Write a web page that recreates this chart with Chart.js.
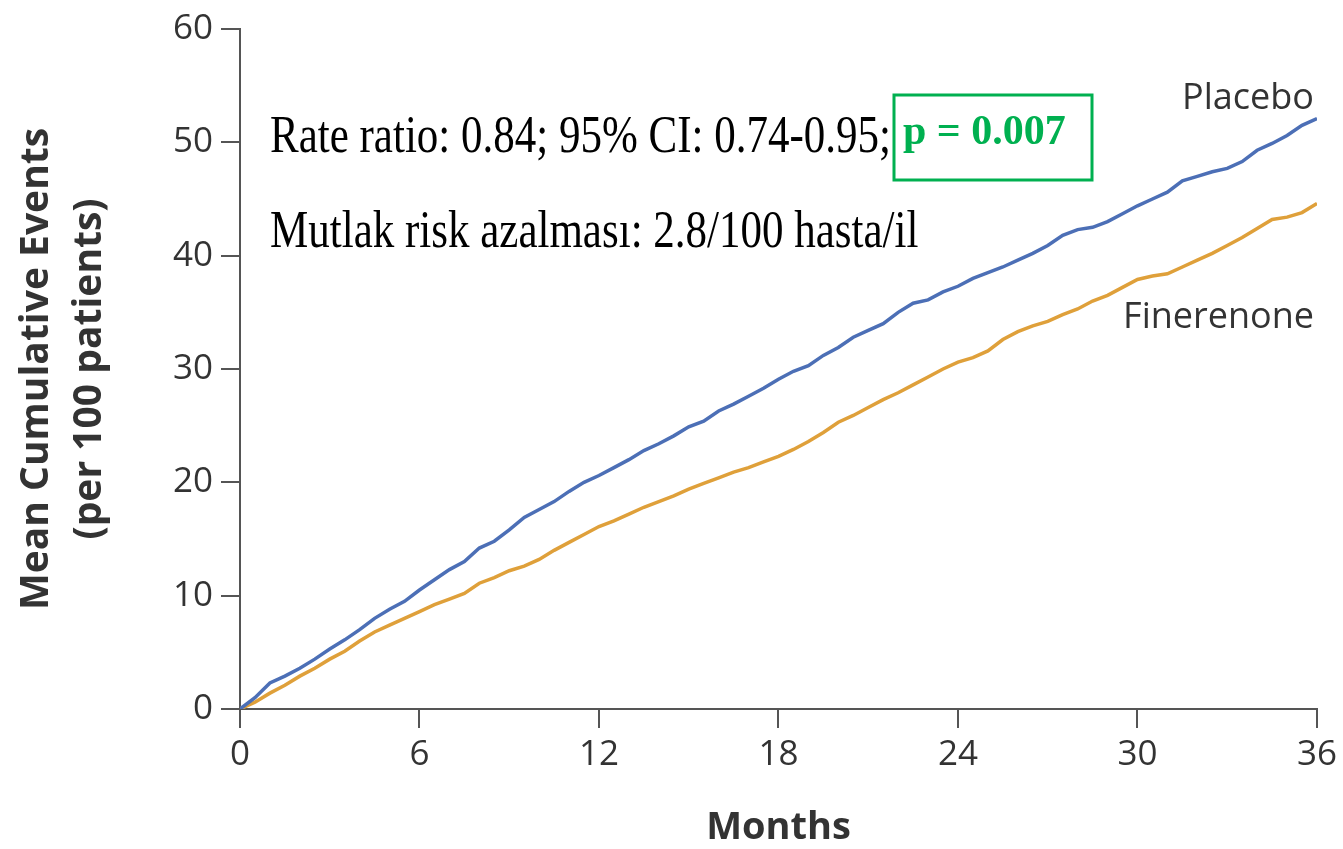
<!DOCTYPE html>
<html>
<head>
<meta charset="utf-8">
<script src="https://cdn.jsdelivr.net/npm/chart.js@4"></script>
<style>
  html, body { margin: 0; padding: 0; background: #fff; }
  #wrap { width: 1343px; height: 849px; }
</style>
</head>
<body>
<div id="wrap"><canvas id="chart" width="1343" height="849"></canvas></div>
<script>
// months, half-month steps
const months = [0, 0.5, 1, 1.5, 2, 2.5, 3, 3.5, 4, 4.5, 5, 5.5, 6, 6.5, 7, 7.5, 8, 8.5, 9, 9.5,
  10, 10.5, 11, 11.5, 12, 12.5, 13, 13.5, 14, 14.5, 15, 15.5, 16, 16.5, 17, 17.5, 18, 18.5, 19, 19.5,
  20, 20.5, 21, 21.5, 22, 22.5, 23, 23.5, 24, 24.5, 25, 25.5, 26, 26.5, 27, 27.5, 28, 28.5, 29, 29.5,
  30, 30.5, 31, 31.5, 32, 32.5, 33, 33.5, 34, 34.5, 35, 35.5, 36];

const placebo = [0, 1.0, 2.3, 2.9, 3.6, 4.4, 5.3, 6.1, 7.0, 8.0, 8.8, 9.5, 10.5, 11.4, 12.3, 13.0, 14.2, 14.8, 15.8, 16.9,
  17.6, 18.3, 19.2, 20.0, 20.6, 21.3, 22.0, 22.8, 23.4, 24.1, 24.9, 25.4, 26.3, 26.9, 27.6, 28.3, 29.1, 29.8, 30.3, 31.2,
  31.9, 32.8, 33.4, 34.0, 35.0, 35.8, 36.1, 36.8, 37.3, 38.0, 38.5, 39.0, 39.6, 40.2, 40.9, 41.8, 42.3, 42.5, 43.0, 43.7,
  44.4, 45.0, 45.6, 46.6, 47.0, 47.4, 47.7, 48.3, 49.3, 49.9, 50.6, 51.5, 52.1];

const finerenone = [0, 0.6, 1.4, 2.1, 2.9, 3.6, 4.4, 5.1, 6.0, 6.8, 7.4, 8.0, 8.6, 9.2, 9.7, 10.2, 11.1, 11.6, 12.2, 12.6,
  13.2, 14.0, 14.7, 15.4, 16.1, 16.6, 17.2, 17.8, 18.3, 18.8, 19.4, 19.9, 20.4, 20.9, 21.3, 21.8, 22.3, 22.9, 23.6, 24.4,
  25.3, 25.9, 26.6, 27.3, 27.9, 28.6, 29.3, 30.0, 30.6, 31.0, 31.6, 32.6, 33.3, 33.8, 34.2, 34.8, 35.3, 36.0, 36.5, 37.2,
  37.9, 38.2, 38.4, 39.0, 39.6, 40.2, 40.9, 41.6, 42.4, 43.2, 43.4, 43.8, 44.6];

const xTicks = [0, 6, 12, 18, 24, 30, 36];
const yTicks = [0, 10, 20, 30, 40, 50, 60];

const seriesNames = ['Placebo', 'Finerenone'];
const seriesLabelY = [52.9, 33.6];   // baseline of the line names, in data units at month 36

const axisColor = '#555';
const textColor = '#333';
const sans = "'Open Sans', 'Noto Sans', sans-serif";
const serif = "'Liberation Serif', 'DejaVu Serif', serif";

const toPoints = arr => arr.map((v, i) => ({ x: months[i], y: v }));

// serif text in the source is a bit taller than it is wide
function tallText(ctx, text, x, y) {
  ctx.save();
  ctx.translate(x, y);
  ctx.scale(1, 1.25);
  ctx.fillText(text, 0, 0);
  ctx.restore();
}

// text overlays: line names, rate ratio note and the boxed p value
const notes = {
  id: 'notes',
  afterDraw(chart) {
    const { ctx, scales: { x, y } } = chart;
    ctx.save();

    ctx.fillStyle = textColor;
    ctx.font = '36px ' + sans;
    ctx.textAlign = 'right';
    ctx.textBaseline = 'alphabetic';
    seriesNames.forEach((name, i) => {
      ctx.fillText(name, x.getPixelForValue(36) - 3, y.getPixelForValue(seriesLabelY[i]));
    });

    ctx.textAlign = 'left';
    ctx.fillStyle = '#000';
    ctx.font = '43px ' + serif;
    const first = 'Rate ratio: 0.84; 95% CI: 0.74-0.95;';
    tallText(ctx, first, 270, 152);
    const w = ctx.measureText(first).width;
    tallText(ctx, 'Mutlak risk azalması: 2.8/100 hasta/il', 270, 247);

    const boxX = Math.round(270 + w + 3);
    ctx.strokeStyle = '#00b050';
    ctx.lineWidth = 3;
    ctx.strokeRect(boxX, 95, 198, 85);

    ctx.fillStyle = '#00b050';
    ctx.font = 'bold 42px ' + serif;
    ctx.fillText('p = 0.007', boxX + 9, 144);

    ctx.restore();
  }
};

new Chart(document.getElementById('chart'), {
  type: 'line',
  data: {
    datasets: [
      {
        label: seriesNames[0],
        data: toPoints(placebo),
        borderColor: '#4c6fb6',
        borderWidth: 3.5,
        pointRadius: 0,
        tension: 0
      },
      {
        label: seriesNames[1],
        data: toPoints(finerenone),
        borderColor: '#dfa03a',
        borderWidth: 3.5,
        pointRadius: 0,
        tension: 0
      }
    ]
  },
  options: {
    responsive: false,
    animation: false,
    layout: { padding: { top: 27, right: 25, left: 0, bottom: 0 } },
    plugins: {
      legend: { display: false },
      tooltip: { enabled: false }
    },
    scales: {
      x: {
        type: 'linear',
        min: 0,
        max: 36,
        afterBuildTicks: s => { s.ticks = xTicks.map(v => ({ value: v })); },
        afterFit: s => { s.height = 140; },
        border: { color: axisColor, width: 2 },
        grid: { drawOnChartArea: false, drawTicks: true, tickLength: 19, color: axisColor, lineWidth: 2 },
        ticks: { color: textColor, font: { family: sans, size: 35 }, padding: 6, maxRotation: 0 },
        title: {
          display: true,
          text: 'Months',
          color: textColor,
          font: { family: sans, size: 38, weight: 'bold', lineHeight: 1.1 },
          padding: { top: 0, bottom: 0 }
        }
      },
      y: {
        min: 0,
        max: 60,
        afterBuildTicks: s => { s.ticks = yTicks.map(v => ({ value: v })); },
        afterFit: s => { s.width = 240; },
        border: { color: axisColor, width: 2 },
        grid: { drawOnChartArea: false, drawTicks: true, tickLength: 19, color: axisColor, lineWidth: 2 },
        ticks: { color: textColor, font: { family: sans, size: 35 }, padding: 8 },
        title: {
          display: true,
          text: ['Mean Cumulative Events', '(per 100 patients)'],
          color: textColor,
          font: { family: sans, size: 39, weight: 'bold', lineHeight: 1.36 },
          padding: { top: 10, bottom: 0 }
        }
      }
    }
  },
  plugins: [notes]
});
</script>
</body>
</html>
